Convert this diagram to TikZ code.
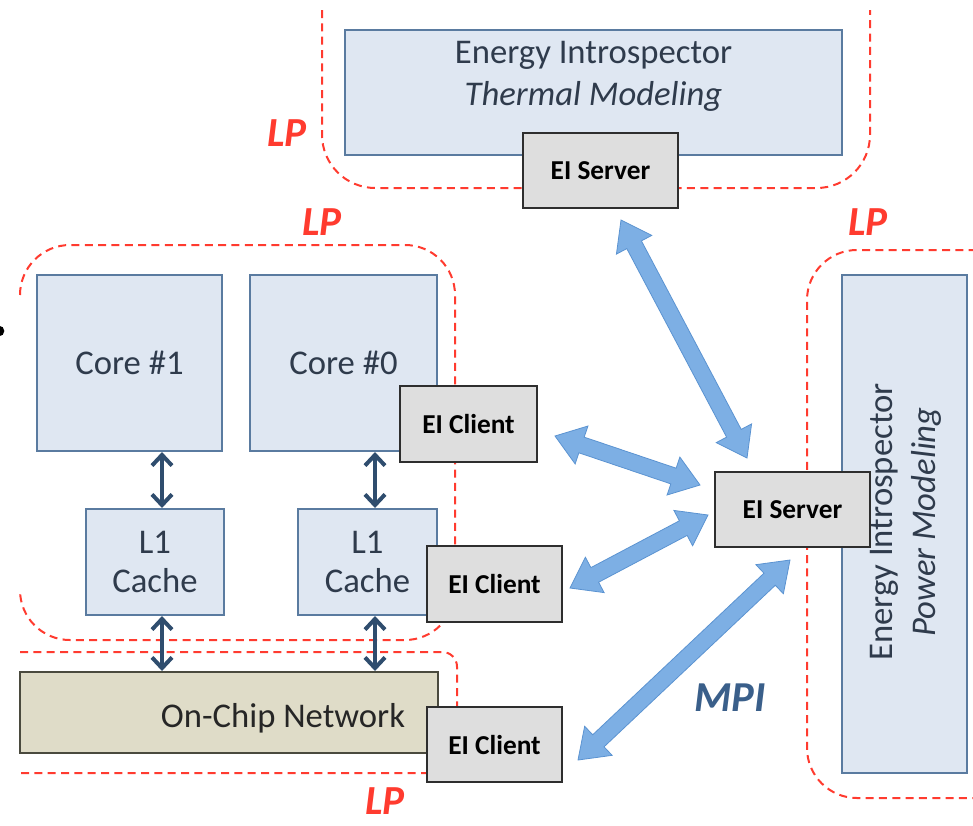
\documentclass[tikz,border=0pt]{standalone}
\usepackage{fontspec}
\setmainfont{Carlito}
\usetikzlibrary{arrows.meta,calc}
\definecolor{lpred}{HTML}{FF3B2F}
\definecolor{boxfill}{HTML}{DFE7F2}
\definecolor{boxdraw}{HTML}{5A7BA0}
\definecolor{greyfill}{HTML}{DEDEDE}
\definecolor{greydraw}{HTML}{2E2E2E}
\definecolor{netfill}{HTML}{DFDCC8}
\definecolor{netdraw}{HTML}{4A4A3E}
\definecolor{textc}{HTML}{2F3B4C}
\definecolor{navy}{HTML}{2F4D6E}
\definecolor{arrfill}{HTML}{7DAFE4}
\definecolor{arrdraw}{HTML}{5B93D1}
\definecolor{mpic}{HTML}{3A5F8A}
\newcommand\bigarrow[2]{%
  \path[bluearr] (#1)
    -- ($(#1)!21pt!(#2)!15pt!90:(#2)$)
    -- ($(#1)!21pt!(#2)!6.2pt!90:(#2)$)
    -- ($(#2)!21pt!(#1)!6.2pt!-90:(#1)$)
    -- ($(#2)!21pt!(#1)!15pt!-90:(#1)$)
    -- (#2)
    -- ($(#2)!21pt!(#1)!15pt!90:(#1)$)
    -- ($(#2)!21pt!(#1)!6.2pt!90:(#1)$)
    -- ($(#1)!21pt!(#2)!6.2pt!-90:(#2)$)
    -- ($(#1)!21pt!(#2)!15pt!-90:(#2)$)
    -- cycle;}
\begin{document}
\begin{tikzpicture}[x=0.75pt,y=-0.75pt,
  lpline/.style={draw=lpred,line width=1.5pt,dash pattern=on 6pt off 4pt},
  lbox/.style={draw=boxdraw,fill=boxfill,line width=1.5pt,text=textc,
    font=\fontsize{26}{29}\selectfont,align=center,inner sep=0pt},
  gbox/.style={draw=greydraw,fill=greyfill,line width=1.6pt,text=black,
    font=\fontsize{20.5}{24}\selectfont\bfseries,inner sep=0pt},
  lplabel/.style={text=lpred,font=\fontsize{31}{34}\selectfont\bfseries\itshape,inner sep=0pt},
  bluearr/.style={fill=arrfill,draw=arrdraw,line width=0.6pt,line join=miter},
  navarr/.style={draw=navy,line width=3pt,{Straight Barb[length=8pt,width=15pt]}-{Straight Barb[length=8pt,width=15pt]}}
]
\useasboundingbox (0,0) rectangle (973,825);

% LP regions
\draw[lpline,rounded corners=40pt] (322,10) -- (322,188) -- (870,188) -- (870,10);
\draw[lpline,rounded corners=37.5pt] (20,295) -- (20,245) -- (455,245) -- (455,640) -- (20,640) -- (20,590);
\draw[lpline,rounded corners=11pt] (20,652) -- (457,652) -- (457,773) -- (20,773);
\draw[lpline,rounded corners=37.5pt] (990,250) -- (807,250) -- (807,798) -- (990,798);

% stray dot at the left edge
\fill (-1,331) circle (4pt);

% boxes
\node[lbox,minimum width=372.75pt,minimum height=93.75pt] (thermal) at (593.5,92.5) {};
\node[text=textc,font=\fontsize{26}{31.5}\selectfont,align=center] (thermaltxt) at (593.5,76) {Energy Introspector\\\itshape Thermal Modeling};
\node[gbox,minimum width=116.25pt,minimum height=56.25pt] (eistop) at (600.5,170.5) {EI Server};

\node[lbox,minimum width=138.75pt,minimum height=132pt] (core1) at (129.5,363) {Core \#1};
\node[lbox,minimum width=140.25pt,minimum height=132pt] (core0) at (343.5,363) {Core \#0};
\node[lbox,minimum width=103.5pt,minimum height=79.5pt] (l1a) at (155,562) {L1\\Cache};
\node[lbox,minimum width=104.25pt,minimum height=79.5pt] (l1b) at (367.5,562) {L1\\Cache};
\node[draw=netdraw,fill=netfill,line width=1.5pt,minimum width=313.5pt,minimum height=60.75pt,inner sep=0pt] (net) at (229,712.5) {};
\node[text=black!85,font=\fontsize{26}{29}\selectfont] (nettxt) at (283,718) {On-Chip Network};

\node[lbox,minimum width=93.75pt,minimum height=373.5pt] (power) at (904.5,524) {};
\node[text=textc,font=\fontsize{26}{32}\selectfont,align=center,rotate=90] (powertxt) at (906,522) {Energy Introspector\\\itshape Power Modeling};

\node[gbox,minimum width=102.75pt,minimum height=57pt] (eic1) at (468.5,424) {EI Client};
\node[gbox,minimum width=101.25pt,minimum height=57pt] (eic2) at (494.5,584) {EI Client};
\node[gbox,minimum width=101.25pt,minimum height=56.25pt] (eic3) at (494.5,744.5) {EI Client};
\node[gbox,minimum width=116.25pt,minimum height=56.25pt] (eisr) at (792.5,509.5) {EI Server};

% big MPI arrows
\coordinate (t1) at (621,220);  \coordinate (t2) at (747,458);
\coordinate (c1a) at (555,436); \coordinate (c1b) at (700,485);
\coordinate (c2a) at (570,588); \coordinate (c2b) at (708,515);
\coordinate (c3a) at (578,760); \coordinate (c3b) at (790,560);
\bigarrow{t1}{t2}
\bigarrow{c1a}{c1b}
\bigarrow{c2a}{c2b}
\bigarrow{c3a}{c3b}

% navy arrows
\coordinate (ax) at (162,0);
\coordinate (bx) at (375,0);
\draw[navarr] (core1.south -| ax) -- (l1a.north -| ax);
\draw[navarr] (core0.south -| bx) -- (l1b.north -| bx);
\draw[navarr] (l1a.south -| ax) -- (net.north -| ax);
\draw[navarr] (l1b.south -| bx) -- (net.north -| bx);

% labels
\node[lplabel] (lp1) at (287,133) {LP};
\node[lplabel] (lp2) at (322,222) {LP};
\node[lplabel] (lp3) at (868,222) {LP};
\node[lplabel] (lp4) at (385,801) {LP};
\node[text=mpic,font=\fontsize{32}{36}\selectfont\bfseries\itshape,inner sep=0pt] (mpi) at (730,698) {MPI};
\end{tikzpicture}
\end{document}
